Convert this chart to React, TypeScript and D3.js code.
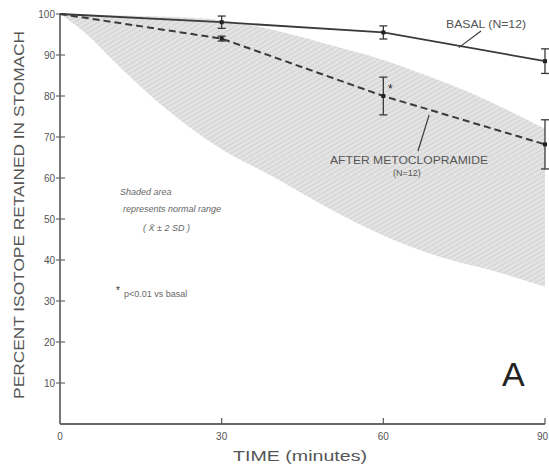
import React from "react";
import * as d3 from "d3";

const timePoints = [0, 30, 60, 90];
const basalMean = [100, 98, 95.5, 88.5];
const basalErr = [0, 1.5, 1.6, 3];
const metoMean = [100, 94, 80, 68.2];
const metoErr = [0, 0.6, 4.6, 6];

const normalTime = [0, 5, 10, 20, 30, 40, 50, 60, 70, 80, 90];
const normalUpper = [100, 99.9, 99.7, 99.3, 98.5, 96, 92.5, 88.8, 84, 78.5, 72];
const normalLower = [100, 95, 88.5, 76.5, 67, 60, 52.5, 46, 41, 37.5, 33.5];

const yTicks = [10, 20, 30, 40, 50, 60, 70, 80, 90, 100];
const xTicks = [0, 30, 60, 90];

const W = 549;
const H = 469;

export default function App() {
  const x = d3.scaleLinear().domain([0, 90]).range([60, 545]);
  const y = d3.scaleLinear().domain([0, 100]).range([424, 14]);

  const band = d3
    .area<number>()
    .x((_, i) => x(normalTime[i]))
    .y0((_, i) => y(normalLower[i]))
    .y1((_, i) => y(normalUpper[i]))
    .curve(d3.curveMonotoneX);

  const line = d3
    .line<number>()
    .x((_, i) => x(timePoints[i]))
    .y((d) => d);

  const basalPath = line(basalMean.map((v) => y(v))) || "";
  const metoPath = line(metoMean.map((v) => y(v))) || "";

  const ink = "#3a3a3a";
  const font = "'Liberation Sans', Arial, sans-serif";

  const errBars = (mean: number[], err: number[], key: string) =>
    timePoints.map((t, i) =>
      err[i] > 0 ? (
        <g key={key + i} stroke={ink} strokeWidth={1.3}>
          <line x1={x(t)} x2={x(t)} y1={y(mean[i] + err[i])} y2={y(mean[i] - err[i])} />
          <line x1={x(t) - 4} x2={x(t) + 4} y1={y(mean[i] + err[i])} y2={y(mean[i] + err[i])} />
          <line x1={x(t) - 4} x2={x(t) + 4} y1={y(mean[i] - err[i])} y2={y(mean[i] - err[i])} />
          <rect x={x(t) - 2} y={y(mean[i]) - 2} width={4} height={4} fill="#222" stroke="none" />
        </g>
      ) : null
    );

  return (
    <svg width={W} height={H} style={{ position: "absolute", left: 0, top: 0, background: "#fff" }} fontFamily={font}>
      <defs>
        <pattern id="hatch" width="4" height="4" patternUnits="userSpaceOnUse" patternTransform="rotate(60)">
          <rect width="4" height="4" fill="#e3e3e3" />
          <line x1="0" y1="0" x2="0" y2="4" stroke="#c6c6c6" strokeWidth="1.2" />
        </pattern>
      </defs>

      {/* normal range */}
      <path d={band(normalTime) || ""} fill="url(#hatch)" />

      {/* axes */}
      <line x1={x(0)} x2={x(0)} y1={y(100)} y2={y(0)} stroke="#777" strokeWidth={2} />
      <line x1={x(0)} x2={x(90)} y1={y(0)} y2={y(0)} stroke="#666" strokeWidth={2} />
      {yTicks.map((t) => (
        <g key={"yt" + t}>
          <line x1={x(0) - 4} x2={x(0) + 5} y1={y(t)} y2={y(t)} stroke="#666" strokeWidth={1.2} />
          <text x={x(0) - 5} y={y(t)} dy="0.35em" textAnchor="end" fontSize={10} fill="#555">
            {t}
          </text>
        </g>
      ))}
      {xTicks.map((t, i) => (
        <g key={"xt" + t}>
          {t > 0 && <line x1={x(t)} x2={x(t)} y1={y(0)} y2={y(0) - 6} stroke="#555" strokeWidth={1.2} />}
          <text
            x={i === xTicks.length - 1 ? x(t) + 3 : x(t)}
            y={y(0) + 16}
            textAnchor={i === xTicks.length - 1 ? "end" : "middle"}
            fontSize={10}
            fill="#555"
          >
            {t}
          </text>
        </g>
      ))}

      {/* series */}
      <path d={basalPath} fill="none" stroke={ink} strokeWidth={1.8} />
      <path d={metoPath} fill="none" stroke={ink} strokeWidth={2} strokeDasharray="7,4" />
      {errBars(basalMean, basalErr, "b")}
      {errBars(metoMean, metoErr, "m")}

      {/* labels */}
      <text x={446} y={28} fontSize={10} fill="#555" textLength={80} lengthAdjust="spacingAndGlyphs">
        BASAL (N=12)
      </text>
      <line x1={481} y1={31} x2={x(74)} y2={y(91.8)} stroke={ink} strokeWidth={1.2} />

      <text x={330} y={164} fontSize={10} fill="#555" textLength={158} lengthAdjust="spacingAndGlyphs">
        AFTER METOCLOPRAMIDE
      </text>
      <text x={407} y={176} fontSize={9} fill="#555" textAnchor="middle">
        (N=12)
      </text>
      <line x1={418} y1={151} x2={x(68.5)} y2={y(75.4)} stroke={ink} strokeWidth={1.2} />
      <text x={388} y={93} fontSize={12} fill="#222">
        *
      </text>

      <g fontSize={9} fontStyle="italic" fill="#666">
        <text x={120} y={195}>Shaded area</text>
        <text x={123} y={212}>represents normal range</text>
        <text x={143} y={231}>( X̄ ± 2 SD )</text>
      </g>
      <text x={116} y={294} fontSize={10} fill="#333">
        *
      </text>
      <text x={124} y={297} fontSize={9} fill="#666">
        p&lt;0.01 vs basal
      </text>

      <text x={502} y={386} fontSize={34} fill="#222">
        A
      </text>

      <text
        transform={`translate(24, ${y(51)}) rotate(-90)`}
        textAnchor="middle"
        fontSize={15}
        fill="#555"
        textLength={368}
        lengthAdjust="spacingAndGlyphs"
      >
        PERCENT ISOTOPE RETAINED IN STOMACH
      </text>
      <text x={300} y={461} textAnchor="middle" fontSize={15} fill="#555" textLength={134} lengthAdjust="spacingAndGlyphs">
        TIME (minutes)
      </text>
    </svg>
  );
}
